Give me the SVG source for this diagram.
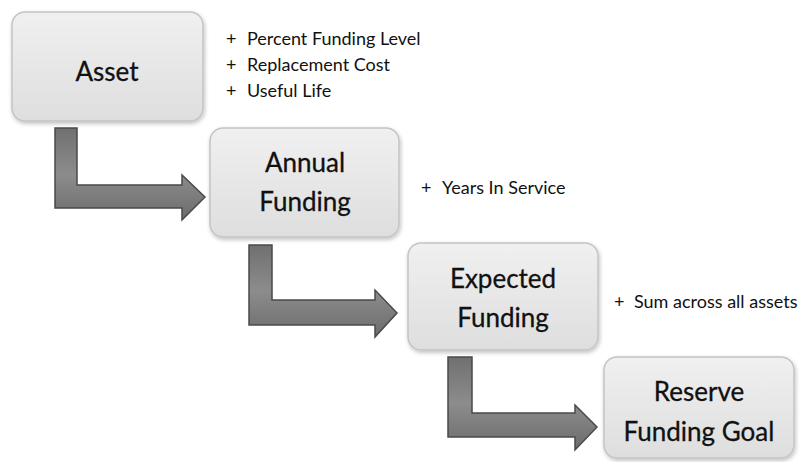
<svg xmlns="http://www.w3.org/2000/svg" width="812" height="462" viewBox="0 0 812 462">
<defs>
<linearGradient id="boxg" x1="0" y1="0" x2="0" y2="1">
<stop offset="0" stop-color="#f0f0f0"/>
<stop offset="1" stop-color="#dedede"/>
</linearGradient>
<linearGradient id="arrg" x1="0" y1="0" x2="0" y2="1">
<stop offset="0" stop-color="#707070"/>
<stop offset="0.5" stop-color="#8c8c8c"/>
<stop offset="1" stop-color="#6c6c6c"/>
</linearGradient>
<filter id="sh" x="-10%" y="-10%" width="120%" height="125%">
<feGaussianBlur in="SourceAlpha" stdDeviation="2"/>
<feOffset dx="1" dy="2"/>
<feComponentTransfer><feFuncA type="linear" slope="0.25"/></feComponentTransfer>
<feMerge><feMergeNode/><feMergeNode in="SourceGraphic"/></feMerge>
</filter>
</defs>
<style>
.box{fill:url(#boxg);stroke:#c4c4c4;stroke-width:1.5}
.t{font-family:Lato,"Open Sans","Liberation Sans",sans-serif;font-size:26px;fill:#111;text-anchor:middle;stroke:#111;stroke-width:0.3}
.b{font-family:Lato,"Open Sans","Liberation Sans",sans-serif;font-size:18px;fill:#111}
.arr{fill:url(#arrg);stroke:#4a4a4a;stroke-width:1.5;stroke-linejoin:miter}
</style>
<rect width="812" height="462" fill="#ffffff"/>
<g id="connectors">
<path class="arr" d="M55,128 H77 V185 H182 V175 L205,197 L182,220 V208 H55 Z"/>
<path class="arr" d="M249,245 H272 V300 H375 V290 L397,313 L375,337 V325 H249 Z"/>
<path class="arr" d="M448,357 H472 V413 H575 V405 L597,427 L575,450 V437 H448 Z"/>
</g>
<g id="asset">
<rect class="box" x="12" y="12" width="191" height="109" rx="13" filter="url(#sh)"/>
<text class="t" x="107" y="81">Asset</text>
</g>
<g id="asset-notes">
<text class="b" x="226" y="45">+</text><text class="b" x="247" y="45">Percent Funding Level</text>
<text class="b" x="226" y="71">+</text><text class="b" x="247" y="71">Replacement Cost</text>
<text class="b" x="226" y="97">+</text><text class="b" x="247" y="97">Useful Life</text>
</g>
<g id="annual-funding">
<rect class="box" x="210" y="128" width="189" height="109" rx="13" filter="url(#sh)"/>
<text class="t" x="305" y="172">Annual</text>
<text class="t" x="305" y="211">Funding</text>
</g>
<g id="annual-notes">
<text class="b" x="421" y="194">+</text><text class="b" x="442" y="194">Years In Service</text>
</g>
<g id="expected-funding">
<rect class="box" x="408" y="243" width="190" height="107" rx="13" filter="url(#sh)"/>
<text class="t" x="503" y="288">Expected</text>
<text class="t" x="503" y="327">Funding</text>
</g>
<g id="expected-notes">
<text class="b" x="614" y="308">+</text><text class="b" x="634" y="308">Sum across all assets</text>
</g>
<g id="reserve-funding-goal">
<rect class="box" x="604" y="357" width="190" height="101" rx="13" filter="url(#sh)"/>
<text class="t" x="699" y="401">Reserve</text>
<text class="t" x="699" y="441">Funding Goal</text>
</g>
</svg>
